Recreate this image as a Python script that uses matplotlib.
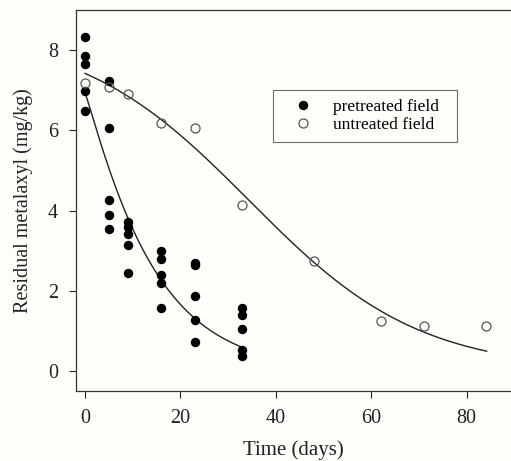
import numpy as np
import matplotlib
matplotlib.use("Agg")
import matplotlib.pyplot as plt

# 측정 데이터 (pretreated field, 날짜별 5회 반복)
pre_days = [0] * 5 + [5] * 5 + [9] * 5 + [16] * 5 + [23] * 5 + [33] * 5
pre_values = [8.33, 7.86, 7.66, 6.98, 6.48,
              7.23, 6.06, 4.25, 3.88, 3.53,
              3.72, 3.58, 3.42, 3.15, 2.45,
              2.98, 2.78, 2.38, 2.19, 1.57,
              2.70, 2.65, 1.88, 1.27, 0.71,
              1.57, 1.39, 1.05, 0.52, 0.37]

# untreated field
un_days = [0, 5, 9, 16, 23, 33, 48, 62, 71, 84]
un_values = [7.17, 7.09, 6.91, 6.19, 6.06, 4.14, 2.74, 1.24, 1.13, 1.13]

# 피팅 곡선 파라미터
pre_c0, pre_tau, pre_p, pre_tmax = 6.93, 14.4, 1.09, 33
un_a, un_k, un_t0, un_tmax = 8.5, 0.056, 34.4, 84.2

plt.rcParams['font.family'] = ['Liberation Serif', 'DejaVu Serif']

fig = plt.figure(figsize=(5.11, 4.61), dpi=100)
fig.patch.set_facecolor('#fdfdfa')
ax = fig.add_axes([76 / 511, 70 / 461, 435 / 511, 381 / 461])
ax.set_facecolor('#fdfdfa')

# 곡선
t1 = np.linspace(0, pre_tmax, 200)
ax.plot(t1, pre_c0 * np.exp(-(t1 / pre_tau) ** pre_p), color='#222222', lw=1.0)
t2 = np.linspace(0, un_tmax, 300)
ax.plot(t2, un_a / (1 + np.exp(un_k * (t2 - un_t0))), color='#222222', lw=1.0)

# 점
ax.plot(pre_days, pre_values, 'o', color='black', ms=6.8, mew=0,
        label='pretreated field', zorder=3)
ax.plot(un_days, un_values, 'o', mfc='none', mec='#555555', ms=6.5, mew=0.9,
        label='untreated field', zorder=3)

ax.set_xlim(-1.9, 89.3)
ax.set_ylim(-0.5, 9.0)
ax.set_xticks([0, 20, 40, 60, 80])
ax.set_yticks([0, 2, 4, 6, 8])
ax.tick_params(direction='out', length=5, width=0.8, labelsize=14.5, colors='#222222')
ax.tick_params(axis='y', pad=8)
ax.tick_params(axis='x', pad=8)
ax.spines['right'].set_visible(False)
for s in ['left', 'top', 'bottom']:
    ax.spines[s].set_color('#333333')
    ax.spines[s].set_linewidth(0.9)

ax.set_xlabel('Time (days)', fontsize=15, labelpad=9, color='#222222')
ax.set_ylabel('Residual metalaxyl (mg/kg)', fontsize=14.5, labelpad=11, color='#222222')

leg = ax.legend(loc='lower left', bbox_to_anchor=(0.453, 0.654, 0.423, 0.141),
                mode='expand', fontsize=12.5, frameon=True, fancybox=False,
                borderpad=0.5, labelspacing=0.12, handlelength=2.5,
                handletextpad=0.45, borderaxespad=0, markerscale=1.0)
leg.get_frame().set_edgecolor('#444444')
leg.get_frame().set_linewidth(0.8)
leg.get_frame().set_facecolor('#fdfdfa')

plt.savefig('out.png', dpi=100, facecolor=fig.get_facecolor())
